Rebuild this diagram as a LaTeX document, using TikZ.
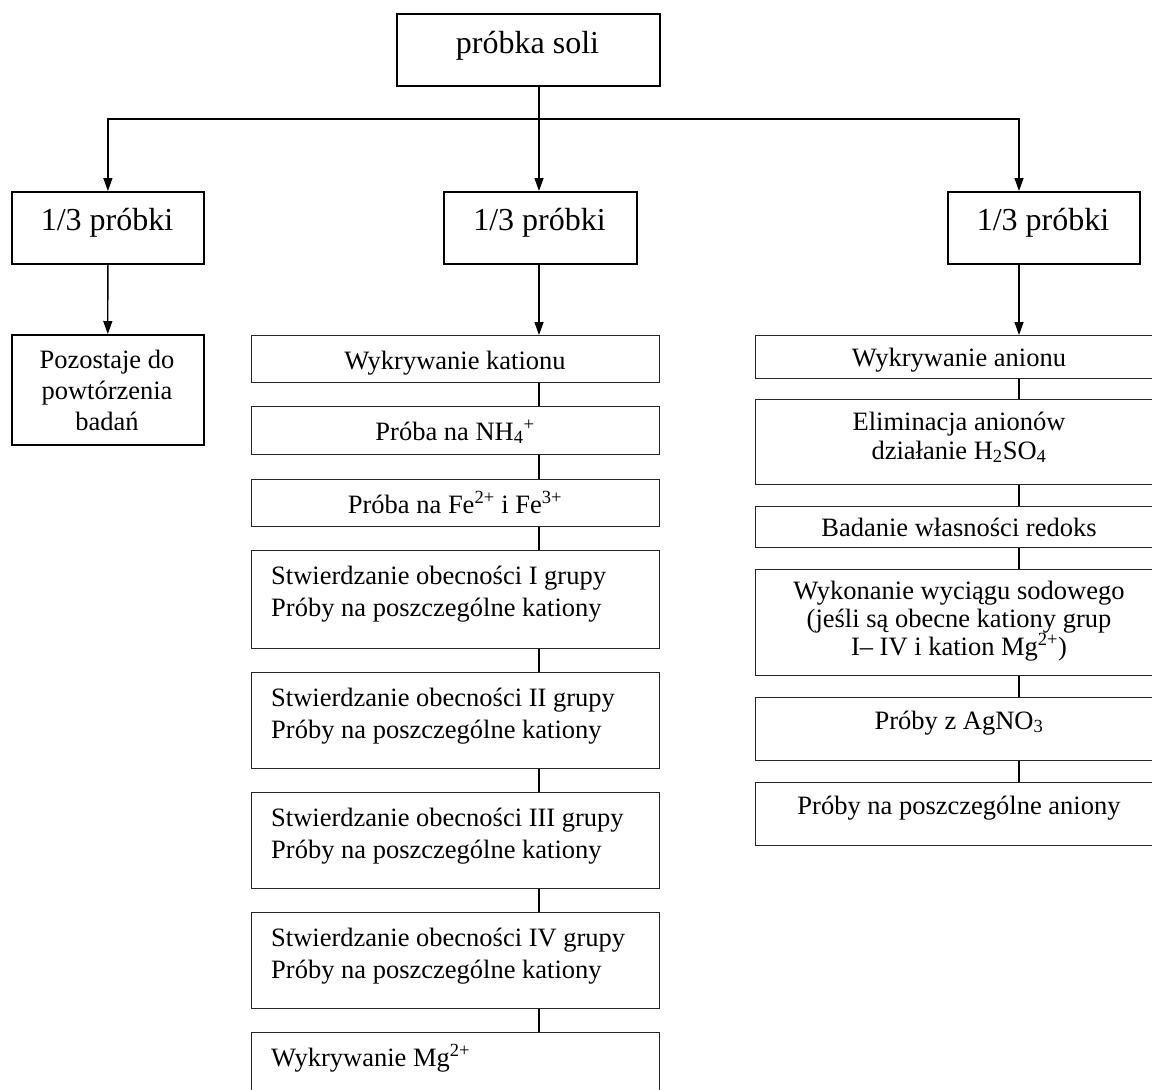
\documentclass[tikz,border=0pt]{standalone}
\usepackage{fontspec}
\setmainfont{Liberation Serif}
\usetikzlibrary{arrows.meta,calc}
\tikzset{
  bigbox/.style={draw=black,line width=1.8pt,inner sep=0pt,anchor=north west},
  smallbox/.style={draw=black!85,line width=1.2pt,inner sep=0pt,anchor=north west},
  bigtxt/.style={inner sep=0pt,anchor=base,font=\fontsize{32}{38}\selectfont},
  txt/.style={inner sep=0pt,anchor=base,font=\fontsize{26.5}{32}\selectfont},
  ltxt/.style={inner sep=0pt,anchor=base west,font=\fontsize{26.5}{32}\selectfont},
  conn/.style={line width=1.3pt,draw=black},
  arr/.style={conn,-{Triangle[length=13pt,width=9pt]}}
}
\begin{document}
\begin{tikzpicture}[x=1pt,y=-1pt]
\useasboundingbox (0,0) rectangle (1152,1090);
\clip (0,0) rectangle (1152,1090);
% top
\node[bigbox,minimum width=263pt,minimum height=72pt] (top) at (396,13) {};
\node[bigtxt] (topt) at (527.5,53) {próbka soli};
% level 2
\node[bigbox,minimum width=192pt,minimum height=72pt] (L) at (11,191) {};
\node[bigtxt] (Lt) at (107,230) {1/3 próbki};
\node[bigbox,minimum width=193pt,minimum height=72pt] (M) at (443,191) {};
\node[bigtxt] (Mt) at (539.5,230) {1/3 próbki};
\node[bigbox,minimum width=192pt,minimum height=72pt] (R) at (947,191) {};
\node[bigtxt] (Rt) at (1043,230) {1/3 próbki};
% hub coordinates
\coordinate (hub) at (539,119);
\coordinate (rx) at (1019,119);
\draw[conn] (top.south -| hub) -- (hub);
\draw[arr] (hub) -| (L.north);
\draw[arr] (hub) -- (hub |- M.north);
\draw[arr] (hub) -- (rx) -- (rx |- R.north);
% left column
\node[bigbox,line width=1.6pt,minimum width=192pt,minimum height=110pt] (P) at (11,334) {};
\node[txt] (Pt1) at (107,368) {Pozostaje do};
\node[txt] (Pt2) at (107,399) {powtórzenia};
\node[txt] (Pt3) at (107,430) {badań};
\draw[arr] (L.south) -- (P.north);
% middle column
\node[smallbox,minimum width=408pt,minimum height=47pt] (k1) at (251,335) {};
\node[txt] (k1t) at (455,369) {Wykrywanie kationu};
\node[smallbox,minimum width=408pt,minimum height=48pt] (k2) at (251,406) {};
\node[txt] (k2t) at (455,440) {Próba na NH\textsubscript{4}\textsuperscript{+}};
\node[smallbox,minimum width=408pt,minimum height=47pt] (k3) at (251,479) {};
\node[txt] (k3t) at (455,513) {Próba na Fe\textsuperscript{2+} i Fe\textsuperscript{3+}};
\node[smallbox,minimum width=408pt,minimum height=98pt] (k4) at (251,550) {};
\node[ltxt] (k4a) at (271,584) {Stwierdzanie obecności I grupy};
\node[ltxt] (k4b) at (271,616) {Próby na poszczególne kationy};
\node[smallbox,minimum width=408pt,minimum height=96pt] (k5) at (251,672) {};
\node[ltxt] (k5a) at (271,706) {Stwierdzanie obecności II grupy};
\node[ltxt] (k5b) at (271,738) {Próby na poszczególne kationy};
\node[smallbox,minimum width=408pt,minimum height=96pt] (k6) at (251,792) {};
\node[ltxt] (k6a) at (271,826) {Stwierdzanie obecności III grupy};
\node[ltxt] (k6b) at (271,858) {Próby na poszczególne kationy};
\node[smallbox,minimum width=408pt,minimum height=96pt] (k7) at (251,912) {};
\node[ltxt] (k7a) at (271,946) {Stwierdzanie obecności IV grupy};
\node[ltxt] (k7b) at (271,978) {Próby na poszczególne kationy};
\node[smallbox,minimum width=408pt,minimum height=96pt] (k8) at (251,1032) {};
\node[ltxt] (k8t) at (271,1066) {Wykrywanie Mg\textsuperscript{2+}};
\draw[arr] (M.south -| hub) -- (k1.north -| hub);
\foreach \a/\b in {k1/k2,k2/k3,k3/k4,k4/k5,k5/k6,k6/k7,k7/k8}
  \draw[conn] (\a.south -| hub) -- (\b.north -| hub);
% right column
\node[smallbox,minimum width=408pt,minimum height=43pt] (a1) at (755,335) {};
\node[txt] (a1t) at (959,366) {Wykrywanie anionu};
\node[smallbox,minimum width=408pt,minimum height=85pt] (a2) at (755,399) {};
\node[txt] (a2a) at (959,430) {Eliminacja anionów};
\node[txt] (a2b) at (959,459) {działanie H\textsubscript{2}SO\textsubscript{4}};
\node[smallbox,minimum width=408pt,minimum height=41pt] (a3) at (755,506) {};
\node[txt] (a3t) at (959,536) {Badanie własności redoks};
\node[smallbox,minimum width=408pt,minimum height=106pt] (a4) at (755,569) {};
\node[txt] (a4a) at (959,599) {Wykonanie wyciągu sodowego};
\node[txt] (a4b) at (959,627) {(jeśli są obecne kationy grup};
\node[txt] (a4c) at (959,655) {I– IV i kation Mg\textsuperscript{2+})};
\node[smallbox,minimum width=408pt,minimum height=63pt] (a5) at (755,697) {};
\node[txt] (a5t) at (959,729) {Próby z AgNO\textsubscript{3}};
\node[smallbox,minimum width=408pt,minimum height=63pt] (a6) at (755,782) {};
\node[txt] (a6t) at (959,814) {Próby na poszczególne aniony};
\draw[arr] (R.south -| rx) -- (a1.north -| rx);
\foreach \a/\b in {a1/a2,a2/a3,a3/a4,a4/a5,a5/a6}
  \draw[conn] (\a.south -| rx) -- (\b.north -| rx);
\end{tikzpicture}
\end{document}
